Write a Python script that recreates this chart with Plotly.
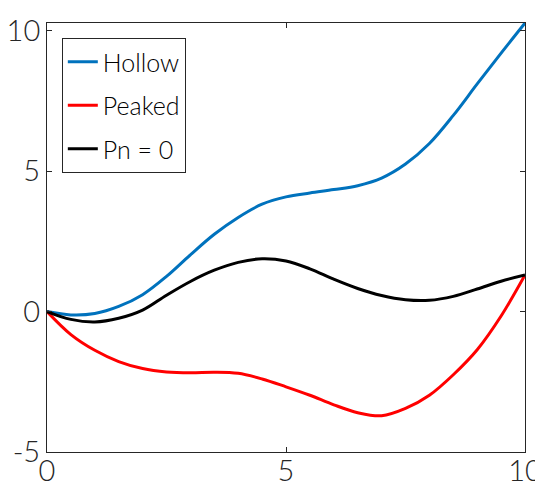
import plotly.graph_objects as go

x = [0, 0.5, 1, 1.5, 2, 2.5, 3, 3.5, 4, 4.5, 5, 5.5, 6, 6.5, 7, 7.5, 8, 8.5, 9, 9.5, 10]
hollow = [0, -0.12, -0.07, 0.18, 0.6, 1.25, 2.02, 2.75, 3.35, 3.82, 4.08, 4.22, 4.34, 4.48,
          4.75, 5.25, 5.98, 6.98, 8.1, 9.2, 10.27]
peaked = [0, -0.82, -1.38, -1.78, -2.03, -2.15, -2.18, -2.16, -2.2, -2.4, -2.68, -2.98, -3.32,
          -3.6, -3.71, -3.45, -2.98, -2.25, -1.36, -0.16, 1.3]
pn0 = [0, -0.28, -0.37, -0.24, 0.05, 0.58, 1.07, 1.47, 1.75, 1.88, 1.8, 1.52, 1.15, 0.82,
       0.57, 0.42, 0.4, 0.54, 0.8, 1.08, 1.3]

names = ["Hollow", "Peaked", "Pn = 0"]
colors = ["#0072BD", "#FF0000", "#000000"]
series = [hollow, peaked, pn0]

xticks = [0, 5, 10]
yticks = [-5, 0, 5, 10]

FONT = "Lato"

fig = go.Figure()
for i, (nm, col, ys) in enumerate(zip(names, colors, series)):
    fig.add_trace(go.Scatter(x=x, y=ys, mode="lines", name=nm,
                             line=dict(color=col, width=3, shape="spline", smoothing=1.0),
                             legendgroup=f"g{i}"))

axis_common = dict(showline=True, linecolor="#262626", linewidth=1, mirror="ticks",
                   ticks="inside", ticklen=5, tickwidth=1, tickcolor="#262626",
                   showgrid=False, zeroline=False, automargin=False,
                   tickfont=dict(family=FONT, size=29, color="#262626", weight=300))

fig.update_xaxes(range=[0, 10], tickvals=xticks, ticktext=[str(v) for v in xticks],
                 ticklabelstandoff=-7, **axis_common)
fig.update_yaxes(range=[-5, 10.27], tickvals=yticks, ticktext=[str(v) for v in yticks], **axis_common)

# page body has an 8px margin, so the figure is sized/offset accordingly
fig.update_layout(
    width=535, height=479,
    margin=dict(l=39, r=18, t=15, b=35),
    plot_bgcolor="white", paper_bgcolor="white",
    legend=dict(x=0.031, y=0.965, xanchor="left", yanchor="top",
                bordercolor="#262626", borderwidth=1, bgcolor="white",
                font=dict(family=FONT, size=25, color="#000000", weight=300),
                traceorder="grouped", tracegroupgap=8, itemwidth=30),
)

fig.write_html("out.html")
